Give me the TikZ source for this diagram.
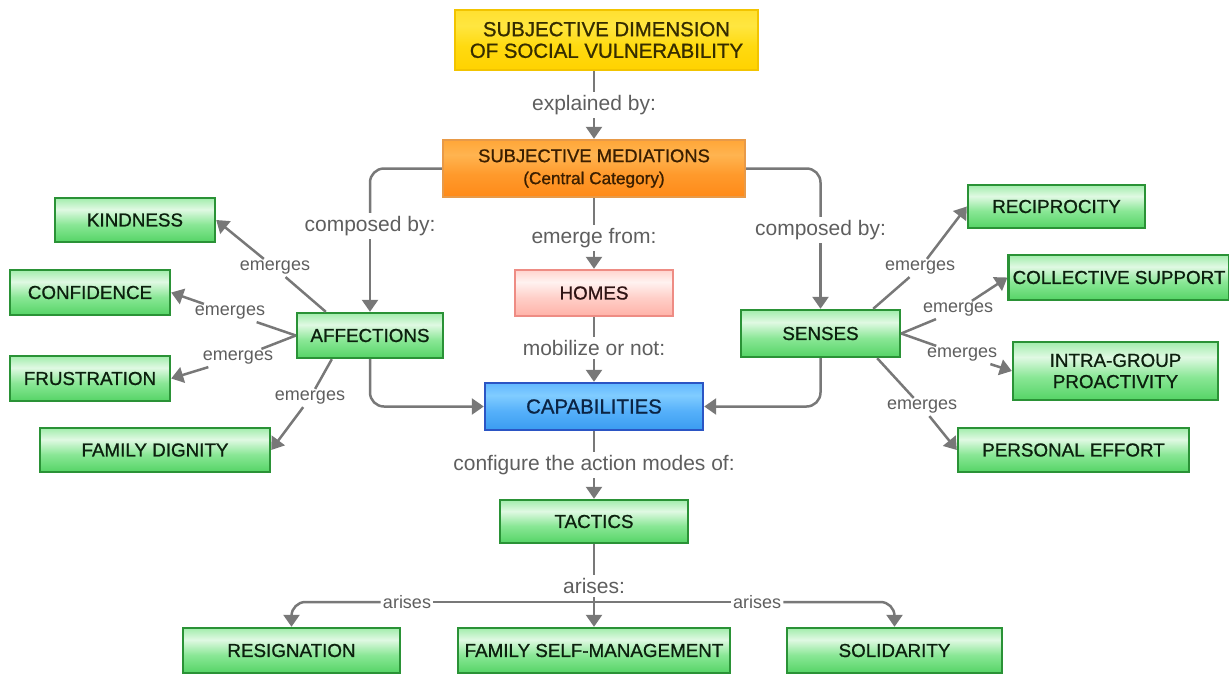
\documentclass[tikz,border=0pt]{standalone}
\usepackage{fontspec}
\setmainfont{Liberation Sans}
\newfontface\boxfont[FakeBold=0.9]{Liberation Sans}
\usetikzlibrary{arrows.meta}
\definecolor{gA}{HTML}{55D466}
\definecolor{gB}{HTML}{8AE796}
\definecolor{gC}{HTML}{E0F9E3}
\definecolor{gD}{HTML}{A2EDAC}
\definecolor{gborder}{HTML}{2A9236}
\definecolor{gtext}{HTML}{0C200E}
\definecolor{bA}{HTML}{3A9CF0}
\definecolor{bB}{HTML}{55B0FA}
\definecolor{bC}{HTML}{80CCFF}
\definecolor{bD}{HTML}{62B8FF}
\definecolor{bborder}{HTML}{2B55C4}
\definecolor{btext}{HTML}{0B2444}
\definecolor{oA}{HTML}{FF8A18}
\definecolor{oB}{HTML}{FF9A2C}
\definecolor{oC}{HTML}{FFB450}
\definecolor{oD}{HTML}{FFA638}
\definecolor{oborder}{HTML}{E89A48}
\definecolor{otext}{HTML}{3A1E00}
\definecolor{pA}{HTML}{FFB2A8}
\definecolor{pB}{HTML}{FFCFC8}
\definecolor{pC}{HTML}{FFF2F0}
\definecolor{pD}{HTML}{FFD4CE}
\definecolor{pborder}{HTML}{EE8C84}
\definecolor{ptext}{HTML}{2E1414}
\definecolor{yA}{HTML}{FFD200}
\definecolor{yB}{HTML}{FFDA10}
\definecolor{yC}{HTML}{FFE640}
\definecolor{yD}{HTML}{FFE030}
\definecolor{yborder}{HTML}{F2C400}
\definecolor{ytext}{HTML}{352C00}
\definecolor{lgray}{HTML}{787878}
\definecolor{labgray}{HTML}{5E5E5E}
\pgfdeclareverticalshading{gshade}{100bp}{color(0bp)=(gA); color(25bp)=(gA); color(45bp)=(gB); color(62bp)=(gC); color(75bp)=(gD); color(100bp)=(gD)}
\pgfdeclareverticalshading{bshade}{100bp}{color(0bp)=(bA); color(25bp)=(bA); color(45bp)=(bB); color(62bp)=(bC); color(75bp)=(bD); color(100bp)=(bD)}
\pgfdeclareverticalshading{oshade}{100bp}{color(0bp)=(oA); color(25bp)=(oA); color(45bp)=(oB); color(62bp)=(oC); color(75bp)=(oD); color(100bp)=(oD)}
\pgfdeclareverticalshading{pshade}{100bp}{color(0bp)=(pA); color(25bp)=(pA); color(45bp)=(pB); color(62bp)=(pC); color(75bp)=(pD); color(100bp)=(pD)}
\pgfdeclareverticalshading{yshade}{100bp}{color(0bp)=(yA); color(25bp)=(yA); color(45bp)=(yB); color(62bp)=(yC); color(75bp)=(yD); color(100bp)=(yD)}
\tikzset{
  box/.style={draw, line width=1.2pt, align=center, inner sep=2pt,
    font=\boxfont\fontsize{9.4}{10.6}\selectfont},
  gbox/.style={box, draw=gborder, shading=gshade, text=gtext},
  bbox/.style={box, draw=bborder, shading=bshade, text=btext},
  obox/.style={box, draw=oborder, shading=oshade, text=otext},
  pbox/.style={box, draw=pborder, shading=pshade, text=ptext},
  ybox/.style={box, draw=yborder, shading=yshade, text=ytext},
  conn/.style={draw=lgray, line width=1.25pt},
  arr/.style={conn, -{Triangle[width=8pt,length=6pt]}},
  lbl/.style={text=labgray, font=\fontsize{10.5}{12}\selectfont, inner sep=1.5pt},
  elbl/.style={text=labgray, font=\fontsize{9}{10}\selectfont, inner sep=1pt},
}
\begin{document}
\begin{tikzpicture}[x=0.5pt, y=-0.5pt]
\useasboundingbox (0,0) rectangle (1229,675);
% central column
\node[ybox, minimum width=151.5pt, minimum height=30pt, font=\boxfont\fontsize{10.2}{10.8}\selectfont] (top) at (606.5,40) {SUBJECTIVE DIMENSION\\OF SOCIAL VULNERABILITY};
\node[obox, minimum width=151pt, minimum height=28.5pt, font=\boxfont\fontsize{9.2}{10.6}\selectfont] (med) at (594,168.5) {SUBJECTIVE MEDIATIONS\\[0.4pt]{\fontsize{8.6}{10}\selectfont(Central Category)}};
\node[pbox, minimum width=79pt, minimum height=23pt] (homes) at (594,293) {HOMES};
\node[bbox, minimum width=109pt, minimum height=23.5pt, font=\boxfont\fontsize{10.2}{11}\selectfont] (cap) at (594,406.5) {CAPABILITIES};
\node[gbox, minimum width=94pt, minimum height=21.5pt] (tac) at (594,521.5) {TACTICS};
\node[gbox, minimum width=108.5pt, minimum height=22.5pt] (resig) at (291.5,650.5) {RESIGNATION};
\node[gbox, minimum width=136pt, minimum height=22.5pt] (fsm) at (594,650.5) {FAMILY SELF-MANAGEMENT};
\node[gbox, minimum width=107.5pt, minimum height=22.5pt] (sol) at (894.5,650.5) {SOLIDARITY};
% left
\node[gbox, minimum width=80pt, minimum height=22pt] (kind) at (135,220) {KINDNESS};
\node[gbox, minimum width=80pt, minimum height=22.5pt] (conf) at (90,292.5) {CONFIDENCE};
\node[gbox, minimum width=80pt, minimum height=22.5pt] (frus) at (90,378.5) {FRUSTRATION};
\node[gbox, minimum width=115pt, minimum height=22pt] (fd) at (155,450) {FAMILY DIGNITY};
\node[gbox, minimum width=73pt, minimum height=22.5pt] (aff) at (370,335.5) {AFFECTIONS};
% right
\node[gbox, minimum width=88.5pt, minimum height=21.5pt] (recip) at (1056.5,206.5) {RECIPROCITY};
\node[gbox, minimum width=106pt, minimum height=22.5pt] (coll) at (1119,277.5) {COLLECTIVE SUPPORT};
\node[gbox, minimum width=102.5pt, minimum height=29pt] (intra) at (1115.5,371) {INTRA-GROUP\\PROACTIVITY};
\node[gbox, minimum width=115.5pt, minimum height=22pt] (pers) at (1073.5,450) {PERSONAL EFFORT};
\node[gbox, minimum width=79.5pt, minimum height=23.5pt] (sen) at (820.5,333.5) {SENSES};
% labels
\node[lbl] (lexp) at (594,105) {explained by:};
\node[lbl] (lemf) at (594,238) {emerge from:};
\node[lbl] (lmob) at (594,348) {mobilize or not:};
\node[lbl] (lcfg) at (594,465) {configure the action modes of:};
\node[lbl] (lar) at (594,586) {arises:};
\node[elbl] (la1) at (407,602) {arises};
\node[elbl] (la2) at (757,602) {arises};
\node[lbl] (lcl) at (370,226) {composed by:};
\node[lbl] (lcr) at (820.5,230) {composed by:};
\node[elbl] (e1) at (275,268) {emerges};
\node[elbl] (e2) at (230,313) {emerges};
\node[elbl] (e3) at (238,358) {emerges};
\node[elbl] (e4) at (310,398) {emerges};
\node[elbl] (r1) at (920,268) {emerges};
\node[elbl] (r2) at (958,310) {emerges};
\node[elbl] (r3) at (962,355) {emerges};
\node[elbl] (r4) at (922,407) {emerges};
% central connectors
\draw[conn] (med.north |- top.south) -- (lexp);
\draw[arr] (lexp) -- (med.north);
\draw[conn] (med.south) -- (lemf);
\draw[arr] (lemf) -- (homes.north);
\draw[conn] (homes.south) -- (lmob);
\draw[arr] (lmob) -- (cap.north);
\draw[conn] (cap.south) -- (lcfg);
\draw[arr] (lcfg) -- (tac.north);
\draw[conn] (tac.south) -- (lar);
\draw[conn] (la1) -- (la2);
\draw[arr] (lar) -- (fsm.north);
\draw[arr, rounded corners=7pt] (la1) -| (resig.north);
\draw[arr, rounded corners=7pt] (la2) -| (sol.north);
% composed by
\draw[conn, rounded corners=7pt] (med.west) -| (lcl);
\draw[arr] (lcl) -- (aff.north);
\draw[conn, rounded corners=7pt] (med.east) -| (lcr);
\draw[arr] (lcr) -- (sen.north);
\draw[arr, rounded corners=7pt] (aff.south) |- (cap.west);
\draw[arr, rounded corners=7pt] (sen.south) |- (cap.east);
% emerges left
\draw[conn] ([xshift=15pt]aff.north west) -- (e1);
\draw[arr] (e1) -- (kind.east);
\draw[conn] (aff.west) -- (e2);
\draw[arr] (e2) -- (conf.east);
\draw[conn] (aff.west) -- (e3);
\draw[arr] (e3) -- (frus.east);
\draw[conn] ([xshift=18pt]aff.south west) -- (e4);
\draw[arr] (e4) -- (fd.east);
% emerges right
\draw[conn] ([xshift=-14pt]sen.north east) -- (r1);
\draw[arr] (r1) -- (recip.west);
\draw[conn] (sen.east) -- (r2);
\draw[arr] (r2) -- (coll.west);
\draw[conn] (sen.east) -- (r3);
\draw[arr] (r3) -- (intra.west);
\draw[conn] ([xshift=-12pt]sen.south east) -- (r4);
\draw[arr] (r4) -- (pers.west);
\end{tikzpicture}
\end{document}
